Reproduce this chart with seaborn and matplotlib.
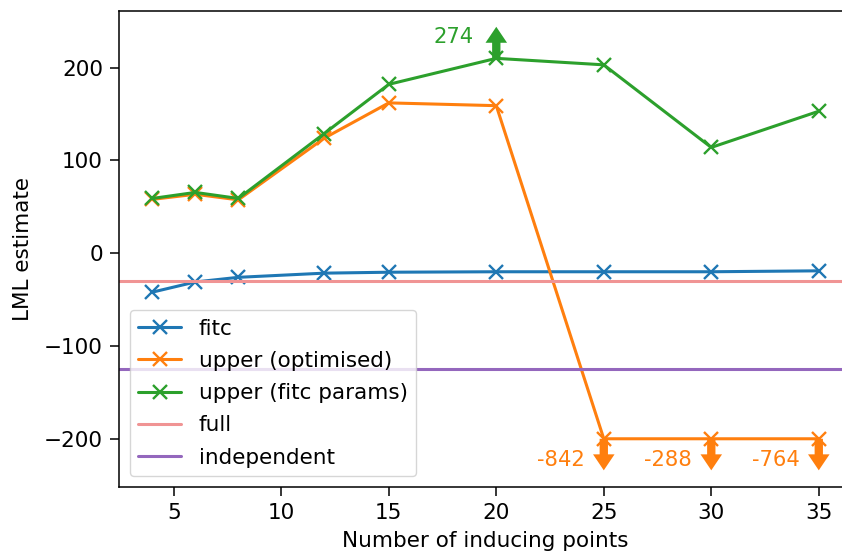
import numpy as np
import pandas as pd
import matplotlib
matplotlib.use("Agg")
import matplotlib.pyplot as plt
import seaborn as sns

# Number of inducing points and log marginal likelihood estimates
inducing_points = [4, 6, 8, 12, 15, 20, 25, 30, 35]
fitc = [-42, -31, -26, -21.5, -20.5, -20, -20, -20, -19]
upper_optimised = [58, 63.5, 57.5, 124, 162, 159, -842, -288, -764]
upper_fitc_params = [59, 65.5, 59, 129, 182, 274, 203, 114, 153]
full_lml = -30
independent_lml = -124.5

# display range for the series; values outside are clipped and flagged with arrows
clip_low, clip_high = -200, 210

sns.set_style("ticks")
plt.rcParams["font.family"] = ["DejaVu Sans"]
plt.rcParams["text.color"] = "black"
plt.rcParams["axes.labelcolor"] = "black"
plt.rcParams["xtick.color"] = "black"
plt.rcParams["ytick.color"] = "black"

colors = sns.color_palette("tab10")
blue, orange, green, purple = colors[0], colors[1], colors[2], colors[4]
pink = "#f09494"

fig = plt.figure(figsize=(8.42, 5.54), dpi=100)
ax = fig.add_axes([0.1413, 0.1209, 0.8707, 0.8592])

series = [
    ("fitc", fitc, blue),
    ("upper (optimised)", upper_optimised, orange),
    ("upper (fitc params)", upper_fitc_params, green),
]

for label, values, color in series:
    df = pd.DataFrame({"m": inducing_points,
                       "lml": np.clip(values, clip_low, clip_high)})
    sns.lineplot(data=df, x="m", y="lml", ax=ax, color=color, marker="x",
                 markersize=10, markeredgewidth=1.7, linewidth=2.2,
                 label=label, markeredgecolor=color)

ax.axhline(full_lml, color=pink, linewidth=2.2, label="full")
ax.axhline(independent_lml, color=purple, linewidth=2.2, label="independent")

# arrows and true values for clipped points
arrow_len = 34
for label, values, color in series:
    for m, v in zip(inducing_points, values):
        if v < clip_low:
            start, end = clip_low, clip_low - arrow_len
            ty = clip_low - 23
        elif v > clip_high:
            start, end = clip_high, clip_high + arrow_len
            ty = clip_high + 23
        else:
            continue
        ax.annotate("", xy=(m, end), xytext=(m, start),
                    arrowprops=dict(color=color, width=6.0, headwidth=15.5,
                                    headlength=11.5, shrink=0.0, lw=0))
        ax.text(m - 2.0, ty, f"{v:g}", color=color, ha="center", va="center",
                fontsize=15.2)

ax.set_xlim(2.45, 36.55)
ax.set_ylim(-252, 261)
ax.set_xticks([5, 10, 15, 20, 25, 30, 35])
ax.set_yticks([-200, -100, 0, 100, 200])
ax.tick_params(labelsize=15.5, length=6.5, width=1.1, pad=5)
for s in ax.spines.values():
    s.set_visible(True)
    s.set_linewidth(1.1)
    s.set_color("black")

ax.set_xlabel("Number of inducing points", fontsize=15.5, labelpad=6)
ax.set_ylabel("LML estimate", fontsize=15.5, labelpad=8)
ax.legend(loc="lower left", fontsize=15.5, frameon=True, framealpha=0.8,
          edgecolor="#cccccc", handlelength=2.0, labelspacing=0.57)

fig.savefig("out.png", dpi=100)
